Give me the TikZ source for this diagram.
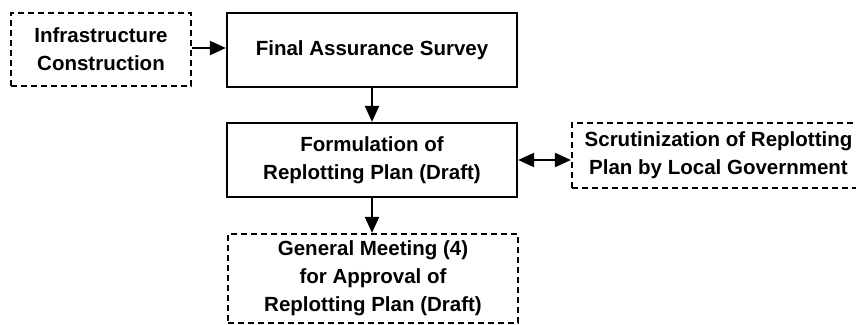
\documentclass[tikz,border=0pt]{standalone}
\usepackage{fontspec}
\setmainfont{Liberation Sans}
\usetikzlibrary{arrows.meta}
\begin{document}
\begin{tikzpicture}[x=1pt,y=-1pt,
  box/.style={draw=black,line width=2.2pt,rectangle,inner sep=0pt,align=center,
    font=\bfseries\fontsize{20.5}{28}\selectfont},
  solidbox/.style={box},
  dashbox/.style={box,dash pattern=on 6pt off 4pt},
  flow/.style={line width=2.2pt,-{Triangle[length=16pt,width=14pt]}},
  both/.style={line width=2.2pt,{Triangle[length=16pt,width=14pt]}-{Triangle[length=16pt,width=14pt]}}]
\useasboundingbox (0,0) rectangle (856,324);
\fill[white] (0,0) rectangle (856,324);
\node[dashbox,minimum width=180pt,minimum height=73pt] (infra) at (101,49.5)
  {Infrastructure\\Construction};
\node[solidbox,minimum width=290pt,minimum height=74pt] (final) at (372,50)
  {Final Assurance Survey};
\node[solidbox,minimum width=290pt,minimum height=74pt] (form) at (372,160)
  {Formulation of\\Replotting Plan (Draft)};
\node[dashbox,minimum width=293pt,minimum height=65pt] (scrut) at (718.5,155.5)
  {Scrutinization of Replotting\\Plan by Local Government};
\node[dashbox,minimum width=290pt,minimum height=89pt] (meet) at (373,278.5)
  {General Meeting (4)\\for Approval of\\Replotting Plan (Draft)};
\draw[flow] (infra.east |- 0,48) -- (final.west |- 0,48);
\draw[flow] (final.south) -- (final.south |- form.north);
\draw[flow] (form.south) -- (form.south |- meet.north);
\draw[both] (form.east) -- (scrut.west |- form.east);
\end{tikzpicture}
\end{document}
